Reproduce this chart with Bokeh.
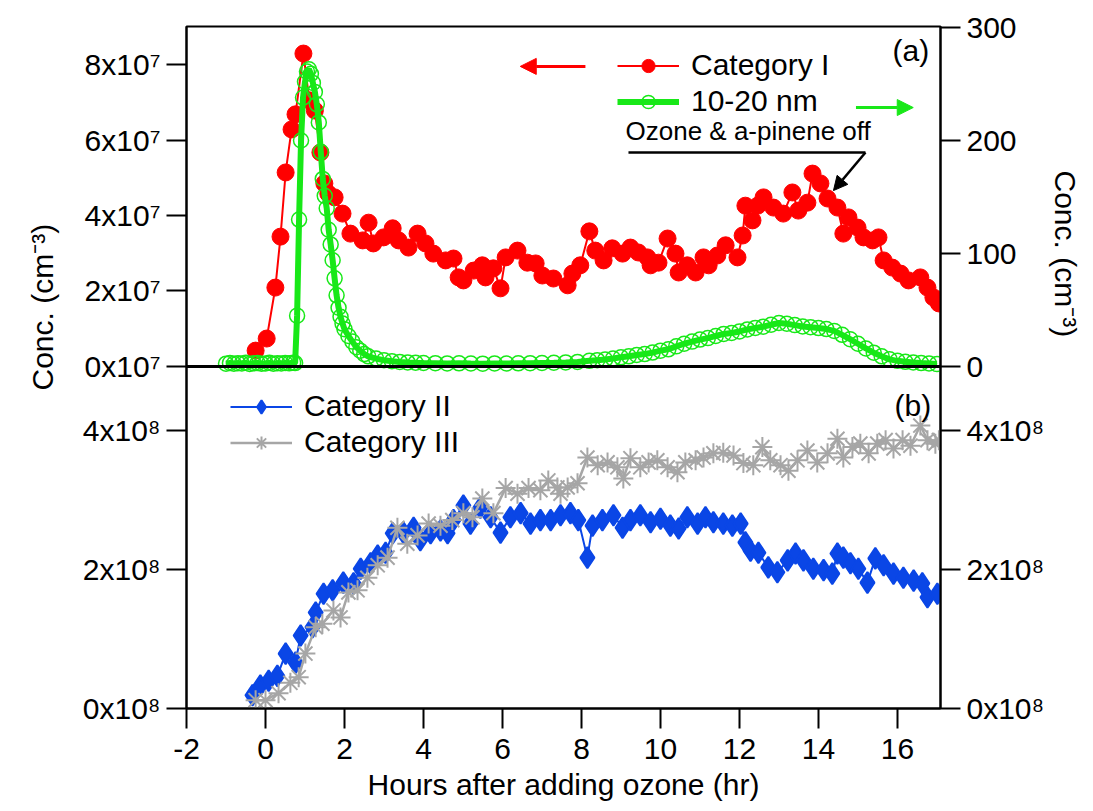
import numpy as np
from bokeh.plotting import figure
from bokeh.models import (Range1d, LinearAxis, FixedTicker,
                          CustomJSTickFormatter, Legend, LegendItem, Label, Arrow,
                          NormalHead, Span, ColumnDataSource, Title)
from bokeh.embed import file_html
from bokeh.resources import INLINE

FONT = "Liberation Sans"

# ---------------- data ----------------
# Panel (a): Category I (left axis, cm^-3, in units of 1e7)
cat1_hr = [-0.25, 0.03, 0.25, 0.38, 0.51, 0.66, 0.76, 0.96, 1.11, 1.25,
           1.39, 1.49, 1.59, 1.75, 1.95, 2.15, 2.46, 2.61, 2.73, 2.99,
           3.22, 3.37, 3.62, 3.85, 4.05, 4.25, 4.56, 4.76, 4.89, 5.01,
           5.27, 5.49, 5.57, 5.77, 5.95, 6.08, 6.38, 6.63, 6.84, 7.01,
           7.29, 7.65, 7.77, 7.97, 8.20, 8.35, 8.56, 8.78, 9.04, 9.24,
           9.44, 9.67, 9.75, 9.95, 10.18, 10.38, 10.46, 10.68, 10.89, 11.09,
           11.22, 11.44, 11.65, 11.95, 12.08, 12.15, 12.33, 12.46, 12.61, 12.86,
           13.11, 13.34, 13.49, 13.72, 13.85, 14.05, 14.23, 14.48, 14.63, 14.76,
           14.99, 15.14, 15.37, 15.52, 15.65, 15.87, 16.08, 16.28, 16.58, 16.76,
           16.91, 17.05]
cat1_e7 = [0.42, 0.74, 2.09, 3.44, 5.14, 6.28, 6.68, 8.29, 7.05, 6.78,
           5.67, 4.85, 4.58, 4.48, 4.05, 3.52, 3.34, 3.81, 3.26, 3.42,
           3.66, 3.34, 3.15, 3.52, 3.26, 2.99, 2.81, 2.86, 2.36, 2.28,
           2.54, 2.68, 2.36, 2.60, 2.07, 2.89, 3.07, 2.75, 2.73, 2.41,
           2.33, 2.15, 2.46, 2.68, 3.58, 3.07, 2.81, 3.13, 2.99, 3.15,
           3.02, 2.89, 2.68, 2.75, 3.39, 2.99, 2.49, 2.68, 2.49, 2.89,
           2.68, 2.94, 3.21, 2.89, 3.47, 4.26, 3.87, 4.26, 4.48, 4.21,
           4.05, 4.61, 4.13, 4.34, 5.11, 4.85, 4.45, 4.21, 3.52, 3.95,
           3.68, 3.42, 3.34, 3.42, 2.81, 2.62, 2.46, 2.28, 2.36, 2.09,
           1.83, 1.67]

# Panel (a): 10-20 nm (right axis, cm^-3)
nm_hr = [-1.0, -0.9, -0.8, -0.7, -0.6, -0.5, -0.4, -0.3, -0.2, -0.1,
         0.0, 0.1, 0.2, 0.3, 0.4, 0.5, 0.6, 0.7, 0.75, 0.8,
         0.85, 0.9, 0.95, 1.0, 1.05, 1.1, 1.15, 1.2, 1.25, 1.3,
         1.35, 1.4, 1.45, 1.5, 1.55, 1.6, 1.65, 1.7, 1.75, 1.8,
         1.85, 1.9, 1.95, 2.0, 2.1, 2.2, 2.3, 2.4, 2.5, 2.6,
         2.8, 3.0, 3.2, 3.4, 3.6, 3.8, 4.0, 4.3, 4.6, 4.9,
         5.2, 5.5, 5.8, 6.1, 6.4, 6.7, 7.0, 7.3, 7.6, 7.9,
         8.2, 8.4, 8.6, 8.8, 9.0, 9.2, 9.4, 9.6, 9.8, 10.0,
         10.2, 10.4, 10.6, 10.8, 11.0, 11.2, 11.4, 11.6, 11.8, 12.0,
         12.2, 12.4, 12.6, 12.8, 13.0, 13.2, 13.4, 13.6, 13.8, 14.0,
         14.2, 14.4, 14.6, 14.8, 15.0, 15.2, 15.4, 15.6, 15.8, 16.0,
         16.2, 16.4, 16.6, 16.8, 17.0]
nm_conc = [2.5, 3.1, 2.4, 2.9, 2.6, 3.3, 2.2, 2.8, 3.0, 2.5,
           2.7, 3.2, 2.4, 2.9, 2.6, 3.1, 2.8, 3.4, 3.0, 45,
           130, 200, 238, 252, 261, 263, 259, 251, 243, 232,
           216, 190, 166, 151, 140, 121, 108, 94, 78, 63,
           52, 44, 38, 33, 27, 22, 17, 14, 11, 9,
           7, 5.5, 4.6, 4.0, 3.6, 3.3, 3.1, 2.9, 2.7, 2.8,
           2.6, 2.5, 2.7, 2.6, 2.8, 2.9, 3.1, 3.3, 3.6, 4.0,
           5.0, 5.6, 6.2, 7.0, 8.1, 9.0, 10.2, 11.0, 12.3, 14.0,
           15.2, 17.8, 20.1, 22.0, 23.8, 25.1, 27.0, 28.8, 29.6, 31.0,
           32.8, 34.1, 35.2, 36.9, 38.5, 37.8, 36.6, 35.4, 34.8, 34.0,
           33.1, 31.5, 28.0, 24.2, 20.1, 16.0, 12.2, 9.0, 6.3, 5.0,
           4.1, 3.5, 3.0, 2.6, 2.1]

# Panel (b): Category II (units of 1e8)
cat2_hr = [-0.33, -0.13, 0.08, 0.30, 0.51, 0.76, 0.89, 1.19, 1.27, 1.47,
           1.70, 1.97, 2.23, 2.41, 2.66, 2.84, 3.04, 3.22, 3.49, 3.75,
           3.92, 4.18, 4.43, 4.61, 4.76, 5.01, 5.19, 5.44, 5.70, 5.95,
           6.20, 6.46, 6.71, 6.96, 7.22, 7.47, 7.72, 7.92, 8.15, 8.28,
           8.53, 8.81, 9.04, 9.24, 9.49, 9.75, 10.00, 10.25, 10.46, 10.68,
           10.94, 11.14, 11.34, 11.59, 11.82, 12.03, 12.15, 12.28, 12.48, 12.73,
           12.96, 13.22, 13.42, 13.62, 13.87, 14.13, 14.35, 14.48, 14.63, 14.81,
           15.01, 15.24, 15.44, 15.65, 15.90, 16.15, 16.41, 16.63, 16.76, 17.01]
cat2_e8 = [0.19, 0.33, 0.40, 0.47, 0.79, 0.66, 1.05, 1.17, 1.38, 1.65,
           1.70, 1.81, 1.80, 2.01, 2.09, 2.20, 2.24, 2.52, 2.53, 2.60,
           2.42, 2.52, 2.56, 2.52, 2.71, 2.92, 2.66, 2.89, 2.75, 2.53,
           2.75, 2.81, 2.66, 2.71, 2.71, 2.78, 2.81, 2.71, 2.17, 2.63,
           2.71, 2.78, 2.60, 2.71, 2.78, 2.68, 2.73, 2.63, 2.59, 2.75,
           2.66, 2.75, 2.68, 2.66, 2.63, 2.66, 2.39, 2.27, 2.24, 2.03,
           1.96, 2.13, 2.23, 2.13, 2.01, 1.99, 1.94, 2.23, 2.17, 2.09,
           2.01, 1.81, 2.16, 2.06, 1.94, 1.88, 1.84, 1.80, 1.60, 1.65]

# Panel (b): Category III (units of 1e8)
cat3_hr = [-0.25, 0.00, 0.33, 0.63, 0.84, 1.01, 1.27, 1.44, 1.72, 1.90,
           2.10, 2.33, 2.58, 2.84, 3.09, 3.34, 3.59, 3.85, 4.13, 4.43,
           4.73, 5.01, 5.24, 5.49, 5.77, 6.08, 6.38, 6.66, 6.96, 7.16,
           7.39, 7.47, 7.65, 7.90, 8.15, 8.41, 8.66, 8.91, 9.06, 9.24,
           9.49, 9.70, 9.92, 10.18, 10.43, 10.63, 10.89, 11.09, 11.34, 11.59,
           11.85, 12.10, 12.35, 12.58, 12.78, 13.04, 13.24, 13.47, 13.72, 13.97,
           14.23, 14.48, 14.63, 14.86, 15.06, 15.27, 15.49, 15.70, 15.90, 16.13,
           16.33, 16.58, 16.76, 16.96, 17.05]
cat3_e8 = [0.12, 0.12, 0.22, 0.37, 0.45, 0.79, 1.17, 1.22, 1.41, 1.31,
           1.67, 1.70, 1.88, 2.06, 2.17, 2.60, 2.37, 2.49, 2.66, 2.63,
           2.71, 2.81, 2.75, 3.02, 2.81, 3.17, 3.09, 3.17, 3.14, 3.28,
           3.18, 3.09, 3.18, 3.24, 3.61, 3.50, 3.54, 3.47, 3.31, 3.60,
           3.47, 3.54, 3.57, 3.47, 3.40, 3.54, 3.57, 3.61, 3.67, 3.68,
           3.64, 3.53, 3.50, 3.76, 3.57, 3.50, 3.42, 3.57, 3.71, 3.54,
           3.67, 3.88, 3.61, 3.76, 3.81, 3.67, 3.81, 3.86, 3.74, 3.86,
           3.78, 4.07, 3.86, 3.81, 3.86]

# tick values / labels
x_ticks = [-2, 0, 2, 4, 6, 8, 10, 12, 14, 16]
cat1_ticks = [0, 2e7, 4e7, 6e7, 8e7]
cat1_tick_labels = ["0x10\u2077", "2x10\u2077", "4x10\u2077", "6x10\u2077", "8x10\u2077"]
nm_ticks = [0, 100, 200, 300]
nm_tick_labels = ["0", "100", "200", "300"]
b_ticks = [0, 2e8, 4e8]
b_tick_labels = ["0x10\u2078", "2x10\u2078", "4x10\u2078"]

RED = "#FF0000"
GREEN = "#18E818"
BLUE = "#0A46E6"
GRAY = "#A6A6A6"

# ---------------- ranges ----------------
FRAC = 0.5015            # fraction of frame height used by panel (b)
D_HI = 9.81e8            # top of default (panel b) range
MID = FRAC * D_HI
C_HI = 9.007e7
C_LO = -C_HI * FRAC / (1 - FRAC)
N_HI = 300.9
N_LO = -N_HI * FRAC / (1 - FRAC)


def to_default(v, hi):
    return float(MID + v / hi * (D_HI - MID))


p = figure(width=1093, height=811, x_range=Range1d(-2, 17.09),
           y_range=Range1d(0, D_HI), output_backend="svg", toolbar_location=None,
           y_axis_location=None, min_border_left=186, min_border_right=153,
           min_border_top=26, min_border_bottom=103)
p.extra_y_ranges = {"cat1": Range1d(C_LO, C_HI), "nm": Range1d(N_LO, N_HI)}
p.grid.visible = False
p.outline_line_color = "black"
p.outline_line_width = 2
p.background_fill_color = "white"
p.border_fill_color = "white"

JS = """
let best = 0, bd = Infinity;
for (let i = 0; i < pos.length; i++) {
  const d = Math.abs(pos[i] - tick);
  if (d < bd) { bd = d; best = i; }
}
return lab[best];
"""

left_pos = [float(v) for v in b_ticks] + [to_default(v, C_HI) for v in cat1_ticks]
left_lab = b_tick_labels + cat1_tick_labels
right_pos = [float(v) for v in b_ticks] + [to_default(v, N_HI) for v in nm_ticks]
right_lab = b_tick_labels + nm_tick_labels

left_axis = LinearAxis(ticker=FixedTicker(ticks=left_pos),
                       formatter=CustomJSTickFormatter(args=dict(pos=left_pos, lab=left_lab), code=JS))
right_axis = LinearAxis(ticker=FixedTicker(ticks=right_pos),
                        formatter=CustomJSTickFormatter(args=dict(pos=right_pos, lab=right_lab), code=JS))
p.add_layout(left_axis, "left")
p.add_layout(right_axis, "right")

xaxis = p.xaxis[0]
xaxis.ticker = FixedTicker(ticks=x_ticks)
xaxis.major_label_overrides = {-2: "-2"}
xaxis.axis_label = "Hours after adding ozone (hr)"
xaxis.axis_label_text_font = FONT
xaxis.axis_label_text_font_size = "30px"
xaxis.axis_label_text_font_style = "normal"
xaxis.axis_label_text_color = "black"
xaxis.axis_label_standoff = 6

for ax in (left_axis, right_axis, xaxis):
    ax.major_tick_out = 20
    ax.major_tick_in = 0
    ax.minor_tick_line_color = None
    ax.axis_line_width = 2
    ax.axis_line_color = "black"
    ax.major_tick_line_width = 2
    ax.major_tick_line_color = "black"
    ax.major_label_text_font = FONT
    ax.major_label_text_font_size = "30px"
    ax.major_label_text_color = "black"
    ax.major_label_standoff = 6
xaxis.major_label_standoff = 10

# side titles acting as the two y-axis labels
left_title = Title(text="Conc. (cm\u207b\u00b3)", align="left", offset=318,
                   vertical_align="middle", standoff=40, text_font=FONT,
                   text_font_size="30px", text_font_style="normal", text_color="black")
right_title = Title(text="Conc. (cm\u207b\u00b3)", align="left", offset=144,
                    vertical_align="middle", standoff=0, text_font=FONT,
                    text_font_size="30px", text_font_style="normal", text_color="black")
p.add_layout(left_title, "left")
p.add_layout(right_title, "right")

# ---------------- glyphs ----------------
src1 = ColumnDataSource(dict(x=cat1_hr, y=np.array(cat1_e7) * 1e7))
srcn = ColumnDataSource(dict(x=nm_hr, y=nm_conc))
src2 = ColumnDataSource(dict(x=cat2_hr, y=np.array(cat2_e8) * 1e8))
src3 = ColumnDataSource(dict(x=cat3_hr, y=np.array(cat3_e8) * 1e8))

r2l = p.line("x", "y", source=src2, line_color=BLUE, line_width=2)
r2s = p.scatter("x", "y", source=src2, marker="diamond", size=21,
                fill_color=BLUE, line_color=BLUE, line_width=2)
r3l = p.line("x", "y", source=src3, line_color=GRAY, line_width=2.5)
r3s = p.scatter("x", "y", source=src3, marker="asterisk", size=20,
                line_color=GRAY, line_width=2)

r1l = p.line("x", "y", source=src1, y_range_name="cat1", line_color=RED, line_width=2)
r1s = p.scatter("x", "y", source=src1, y_range_name="cat1", marker="circle", size=17,
                fill_color=RED, line_color=RED)
rnl = p.line("x", "y", source=srcn, y_range_name="nm", line_color=GREEN, line_width=6)
rns = p.scatter("x", "y", source=srcn, y_range_name="nm", marker="circle", size=15,
                fill_color=None, line_color=GREEN, line_width=1.5)

p.add_layout(Span(location=0, dimension="width", y_range_name="cat1",
                  line_color="black", line_width=3))

# ---------------- legends ----------------
def make_legend(items, loc):
    return Legend(items=items, location=loc, border_line_color=None,
                  background_fill_alpha=0, padding=0, spacing=2, margin=0,
                  glyph_width=62, glyph_height=33, label_height=33,
                  label_standoff=12, label_text_font=FONT,
                  label_text_font_size="30px", label_text_color="black")

leg_a = make_legend([LegendItem(label="Category I", renderers=[r1l, r1s]),
                     LegendItem(label="10-20 nm", renderers=[rnl, rns])], (431, 590))
leg_b = make_legend([LegendItem(label="Category II", renderers=[r2l, r2s]),
                     LegendItem(label="Category III", renderers=[r3l, r3s])], (44, 249))
p.add_layout(leg_a)
p.add_layout(leg_b)

# ---------------- annotations ----------------
p.add_layout(Arrow(x_start=8.1, y_start=7.95e7, x_end=6.45, y_end=7.95e7, y_range_name="cat1",
                   line_color=RED, line_width=3,
                   end=NormalHead(size=16, fill_color=RED, line_color=RED)))
p.add_layout(Arrow(x_start=14.95, y_start=6.86e7, x_end=16.4, y_end=6.86e7, y_range_name="cat1",
                   line_color=GREEN, line_width=3,
                   end=NormalHead(size=16, fill_color=GREEN, line_color=GREEN)))
p.add_layout(Arrow(x_start=9.19, y_start=5.67e7, x_end=15.19, y_end=5.67e7, y_range_name="cat1",
                   line_color="black", line_width=2.5, end=None))
p.add_layout(Arrow(x_start=15.19, y_start=5.67e7, x_end=14.38, y_end=4.66e7, y_range_name="cat1",
                   line_color="black", line_width=2.5,
                   end=NormalHead(size=14, fill_color="black", line_color="black")))

def add_text(txt, x, y, size):
    p.add_layout(Label(x=x, y=y, x_units="screen", y_units="screen", text=txt,
                       text_align="left", text_baseline="middle",
                       text_font=FONT, text_font_size=size, text_color="black"))

add_text("Ozone & a-pinene  off", 439, 578, "26px")
add_text("(a)", 706, 658, "30px")
add_text("(b)", 708, 303, "30px")

open("out.html", "w").write(file_html(p, INLINE))
